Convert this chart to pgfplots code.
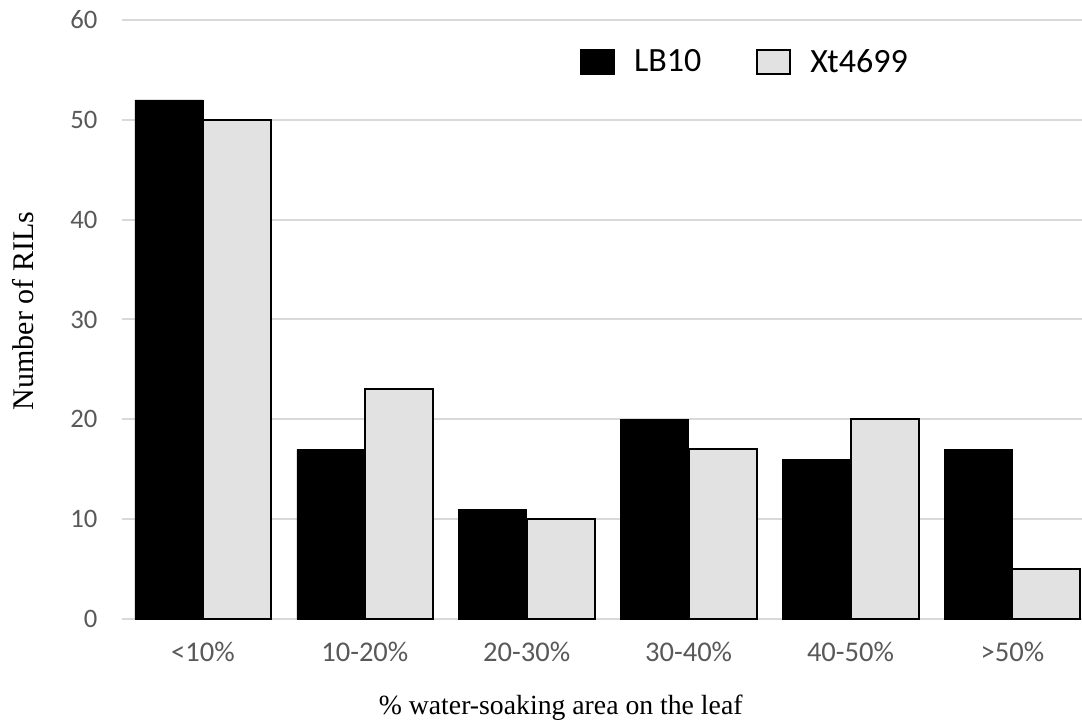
\documentclass[border=0pt]{standalone}
\usepackage{fontspec}
\setmainfont{Liberation Serif}
\newfontfamily\carlito{Carlito}
\usepackage{pgfplots}
\pgfplotsset{compat=1.18}
\definecolor{gridc}{HTML}{D9D9D9}
\definecolor{barg}{HTML}{E2E2E2}
\definecolor{tickc}{HTML}{595959}
\begin{document}
\begin{tikzpicture}
\begin{axis}[
  name=ax,
  scale only axis,
  width=720pt, height=449.25pt,
  xmin=-0.5, xmax=5.43,
  ymin=0, ymax=60,
  ytick={0,10,...,60},
  xtick={0,1,2,3,4,5},
  xticklabels={{<10\%},{10-20\%},{20-30\%},{30-40\%},{40-50\%},{>50\%}},
  ymajorgrids,
  grid style={draw=gridc, line width=1.5pt},
  axis line style={draw=none},
  major tick length=0pt,
  /pgf/number format/assume math mode=true,
  yticklabel style={font=\carlito\fontsize{20}{24}\selectfont, text=tickc, xshift=-15pt},
  xticklabel style={font=\carlito\fontsize{21.4}{25}\selectfont, text=tickc, yshift=-14pt},
  ylabel={Number of RILs},
  ylabel style={font=\fontsize{22.5}{27}\selectfont, at={(axis description cs:-0.103,0.514)}, anchor=center, rotate=0},
  xlabel={\% water-soaking area on the leaf},
  xlabel style={font=\fontsize{20.8}{25}\selectfont, at={(axis description cs:0.457,-0.148)}, anchor=center},
  ybar=0pt,
  bar width=0.42,
  legend columns=2,
  legend style={draw=none, fill=none, font=\carlito\fontsize{25.5}{30}\selectfont,
    at={(axis description cs:0.649,0.93)}, anchor=center,
    /tikz/every even column/.append style={column sep=39pt}},
  legend image code/.code={\draw[#1, line width=1.5pt] (0pt,-9pt) rectangle (25pt,9pt); \path[draw=none, fill=none] (0pt,0pt) -- (38pt,0pt);},
]
\addplot[fill=black, draw=black, line width=0.5pt] coordinates {(0,52) (1,17) (2,11) (3,20) (4,16) (5,17)};
\addlegendentry{LB10}
\addplot[fill=barg, draw=black, line width=1.5pt] coordinates {(0,50) (1,23) (2,10) (3,17) (4,20) (5,5)};
\addlegendentry{Xt4699}
\end{axis}
\pgfresetboundingbox
\path ([shift={(-91.5pt,-81.75pt)}]ax.south west) rectangle ([shift={(0pt,15pt)}]ax.north east);
\end{tikzpicture}
\end{document}
